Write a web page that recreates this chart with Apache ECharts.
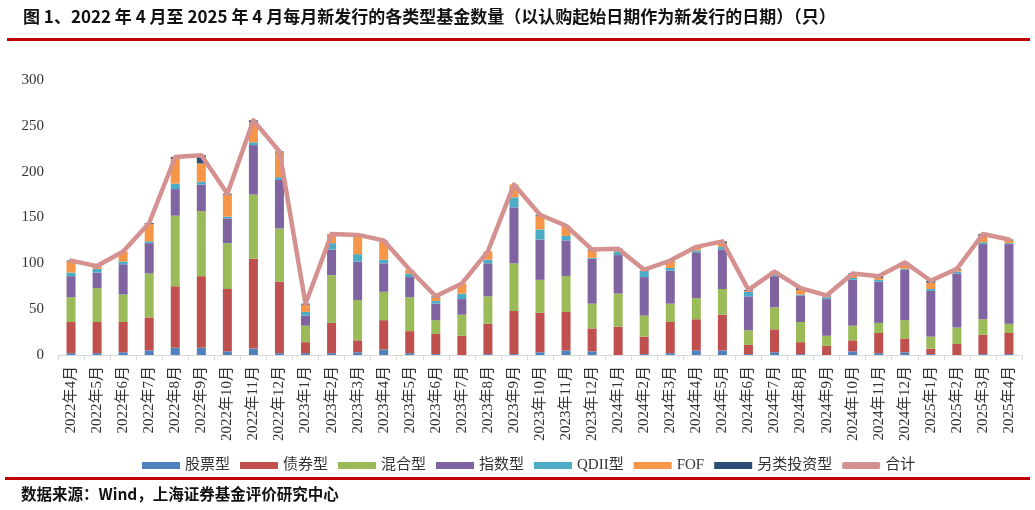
<!DOCTYPE html>
<html>
<head>
<meta charset="utf-8">
<script src="https://cdn.jsdelivr.net/npm/echarts@6/dist/echarts.min.js"></script>
<style>
html,body{margin:0;padding:0;background:#fff;}
#chart{width:1035px;height:510px;}
</style>
</head>
<body>
<div id="chart"></div>
<script>
const categories = [
  '2022年4月','2022年5月','2022年6月','2022年7月','2022年8月','2022年9月','2022年10月','2022年11月','2022年12月',
  '2023年1月','2023年2月','2023年3月','2023年4月','2023年5月','2023年6月','2023年7月','2023年8月','2023年9月','2023年10月','2023年11月','2023年12月',
  '2024年1月','2024年2月','2024年3月','2024年4月','2024年5月','2024年6月','2024年7月','2024年8月','2024年9月','2024年10月','2024年11月','2024年12月',
  '2025年1月','2025年2月','2025年3月','2025年4月'
];
const stockFunds = [2,2,3,5,8,8,4,7,2, 2,2,3,6,2,1,0,1,1,3,5,4, 0,1,2,5,5,1,3,1,0,4,2,3, 1,0,1,1];
const bondFunds  = [34,34,33,36,67,78,68,98,78, 12,33,13,32,24,22,21,33,47,43,42,25, 31,19,34,34,39,10,25,13,10,12,22,15, 6,12,21,23];
const mixedFunds = [27,37,30,48,77,71,50,70,58, 18,52,44,31,37,15,23,30,52,36,39,27, 36,23,20,23,28,16,24,22,11,16,11,20, 13,18,17,10];
const indexFunds = [23,17,33,33,29,29,27,54,53, 11,28,42,31,22,18,17,36,61,44,39,49, 42,42,36,50,43,37,34,29,40,50,45,55, 50,59,82,87];
const qdiiFunds  = [4,4,3,2,6,3,2,3,3, 4,7,8,4,4,3,6,4,11,11,5,1, 4,7,3,2,3,5,2,1,2,2,2,1, 2,2,2,1];
const fofFunds   = [12,3,11,19,27,20,24,22,27, 8,10,21,21,4,4,11,9,14,15,11,8, 2,1,7,3,4,1,2,5,1,3,2,4, 7,2,6,3];
const altFunds   = [1,0,0,1,2,9,1,2,1, 1,0,0,0,0,1,0,0,0,1,0,1, 1,0,1,1,2,1,1,2,1,2,2,3, 2,1,3,1];
const yTicks = {min: 0, max: 300, interval: 50};

const seriesDefs = [
  {name: '股票型', data: stockFunds, color: '#4F81BD'},
  {name: '债券型', data: bondFunds, color: '#C0504D'},
  {name: '混合型', data: mixedFunds, color: '#9BBB59'},
  {name: '指数型', data: indexFunds, color: '#8064A2'},
  {name: 'QDII型', data: qdiiFunds, color: '#4BACC6'},
  {name: 'FOF', data: fofFunds, color: '#F79646'},
  {name: '另类投资型', data: altFunds, color: '#2C4D75'}
];
const totals = categories.map((_, i) => seriesDefs.reduce((s, d) => s + d.data[i], 0));

const serifFont = '"Liberation Serif", "Times New Roman", "Noto Sans CJK SC", serif';
const cjkFont = '"Noto Sans CJK SC", "Liberation Sans", sans-serif';

const chart = echarts.init(document.getElementById('chart'), null, {renderer: 'canvas'});
const series = seriesDefs.map(d => ({
  name: d.name,
  type: 'bar',
  stack: 'total',
  data: d.data,
  barWidth: 9,
  itemStyle: {color: d.color},
  emphasis: {disabled: true},
  animation: false
}));
series.push({
  name: '合计',
  type: 'line',
  data: totals,
  symbol: 'none',
  z: 5,
  lineStyle: {color: '#D4918F', width: 4.5, cap: 'round', join: 'round'},
  itemStyle: {color: '#D4918F'},
  animation: false
});

chart.setOption({
  animation: false,
  title: {
    text: '图 1、2022 年 4 月至 2025 年 4 月每月新发行的各类型基金数量（以认购起始日期作为新发行的日期）（只）',
    left: 18,
    top: 3,
    textStyle: {fontFamily: cjkFont, fontSize: 17, fontWeight: 'bold', color: '#111'}
  },
  grid: {left: 58, right: 13, top: 80, bottom: 155, containLabel: false},
  legend: {
    left: 137,
    top: 453,
    itemWidth: 38,
    itemHeight: 7,
    itemGap: 10,
    textStyle: {fontFamily: serifFont, fontSize: 15, color: '#333'},
    data: seriesDefs.map(d => ({name: d.name, icon: 'rect'})).concat([{name: '合计', icon: 'roundRect'}])
  },
  xAxis: {
    type: 'category',
    data: categories,
    axisLine: {lineStyle: {color: '#D9D9D9', width: 1}},
    axisTick: {show: true, length: 5, lineStyle: {color: '#D9D9D9'}},
    axisLabel: {rotate: 90, interval: 0, margin: 11, fontFamily: serifFont, fontSize: 15, color: '#333'},
    splitLine: {show: false}
  },
  yAxis: {
    type: 'value',
    min: yTicks.min,
    max: yTicks.max,
    interval: yTicks.interval,
    axisLine: {show: false},
    axisTick: {show: false},
    splitLine: {show: false},
    axisLabel: {margin: 14, fontFamily: serifFont, fontSize: 15, color: '#333'}
  },
  graphic: [
    {type: 'rect', left: 7, top: 38, shape: {width: 1023, height: 3}, style: {fill: '#C00000'}, silent: true},
    {type: 'rect', left: 5, top: 477, shape: {width: 1025, height: 3}, style: {fill: '#C00000'}, silent: true},
    {type: 'text', left: 21, top: 486, style: {text: '数据来源：Wind，上海证券基金评价研究中心', font: 'bold 15.5px "Noto Sans CJK SC", sans-serif', fill: '#111'}, silent: true}
  ],
  series: series
});
</script>
</body>
</html>
